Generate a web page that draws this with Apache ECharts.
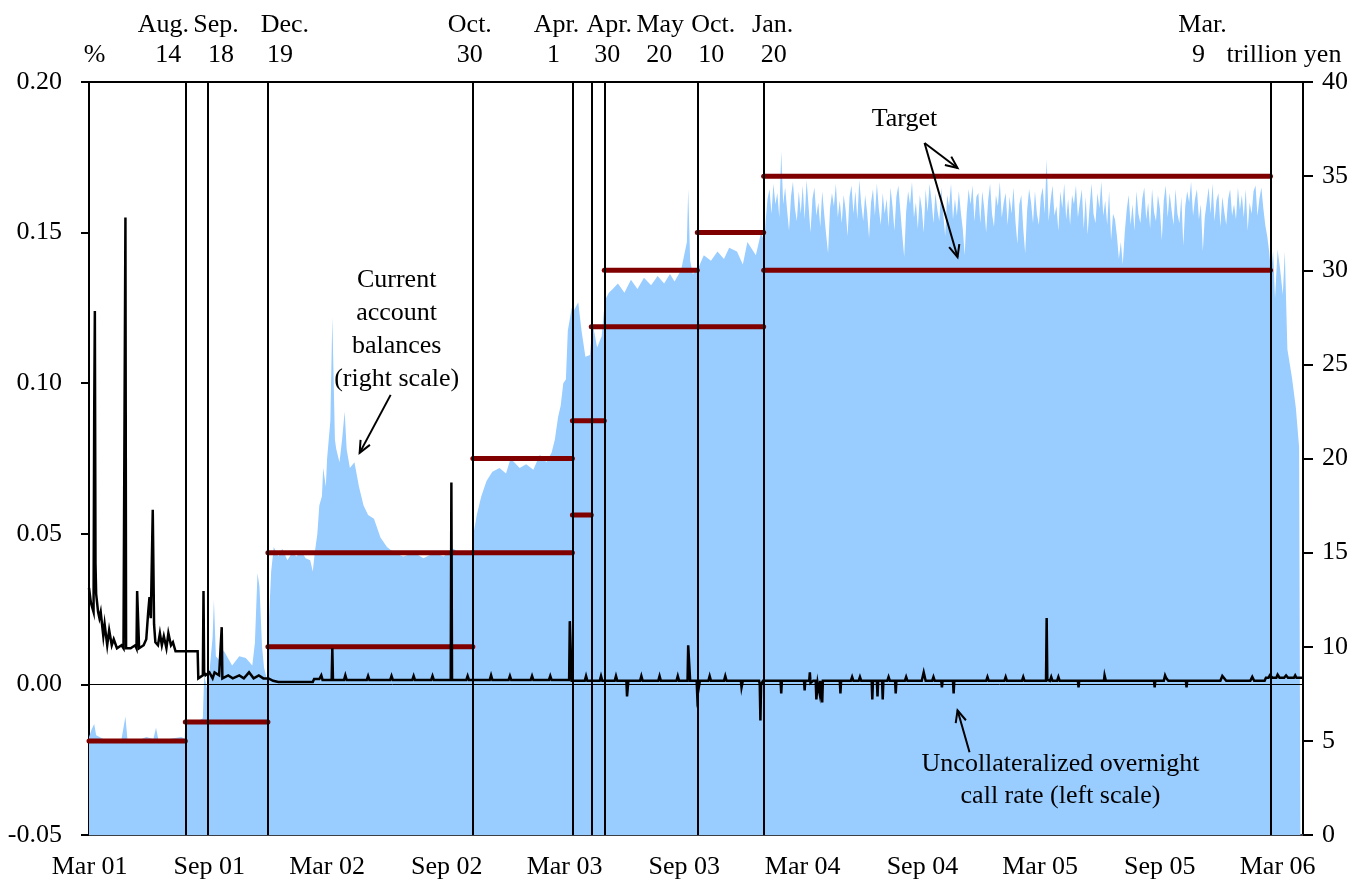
<!DOCTYPE html>
<html>
<head>
<meta charset="utf-8">
<script src="https://cdn.jsdelivr.net/npm/echarts@6/dist/echarts.min.js"></script>
<style>
  html, body { margin: 0; padding: 0; background: #fff; }
  #chart { width: 1367px; height: 891px; }
</style>
</head>
<body>
<div id="chart"></div>
<script>
// ---- time span of the horizontal axis ----
const AXIS_START = '2001-03-19';
const AXIS_END = '2006-04-28';

// ---- bottom axis labels ----
const monthTickDates = ['2001-03-20', '2001-09-20', '2002-03-20', '2002-09-20', '2003-03-20', '2003-09-20',
  '2004-03-20', '2004-09-20', '2005-03-20', '2005-09-20', '2006-03-20'];
const monthTickLabels = ['Mar 01', 'Sep 01', 'Mar 02', 'Sep 02', 'Mar 03', 'Sep 03',
  'Mar 04', 'Sep 04', 'Mar 05', 'Sep 05', 'Mar 06'];

// ---- policy change dates (vertical lines) ----
const policyDates = ['2001-08-14', '2001-09-18', '2001-12-19', '2002-10-30', '2003-04-01', '2003-04-30',
  '2003-05-20', '2003-10-10', '2004-01-20', '2006-03-09'];
const policyMonths = ['Aug.', 'Sep.', 'Dec.', 'Oct.', 'Apr.', 'Apr.', 'May', 'Oct.', 'Jan.', 'Mar.'];
const policyDays = ['14', '18', '19', '30', '1', '30', '20', '10', '20', '9'];

// ---- current account balance targets (trillion yen) ----
const targetFrom = ['2001-03-19', '2001-08-14', '2001-12-19', '2001-12-19', '2002-10-30', '2002-10-30',
  '2003-04-01', '2003-04-01', '2003-04-30', '2003-05-20', '2003-10-10', '2004-01-20', '2004-01-20'];
const targetTo = ['2001-08-14', '2001-12-19', '2002-10-30', '2002-10-30', '2003-04-01', '2003-04-01',
  '2003-04-30', '2003-05-20', '2004-01-20', '2003-10-10', '2004-01-20', '2006-03-09', '2006-03-09'];
const targetLevel = [5, 6, 10, 15, 15, 20, 17, 22, 27, 30, 32, 30, 35];

// ---- current account balances (trillion yen, right scale) ----
// until the Jan. 2004 target change
const balancesEarly = [
  ['2001-03-19', 5.2], ['2001-03-23', 5.6], ['2001-03-27', 5.9], ['2001-03-30', 5.3], ['2001-04-10', 5.1],
  ['2001-04-25', 4.9], ['2001-05-08', 5.1], ['2001-05-14', 6.3], ['2001-05-17', 5.1], ['2001-06-01', 5.0],
  ['2001-06-15', 5.2], ['2001-06-26', 5.1], ['2001-06-30', 5.7], ['2001-07-04', 5.0], ['2001-07-20', 5.1],
  ['2001-08-08', 5.2], ['2001-08-13', 5.1], ['2001-08-14', 6.0], ['2001-08-24', 6.1], ['2001-09-05', 6.1],
  ['2001-09-10', 6.2], ['2001-09-12', 8.5], ['2001-09-18', 7.5], ['2001-09-21', 9.0], ['2001-09-25', 10.5],
  ['2001-09-27', 12.5], ['2001-09-30', 9.5], ['2001-10-05', 9.3], ['2001-10-12', 9.8], ['2001-10-25', 9.0],
  ['2001-11-05', 9.5], ['2001-11-15', 9.4], ['2001-11-25', 9.0], ['2001-11-29', 10.2], ['2001-12-03', 13.9],
  ['2001-12-06', 13.2], ['2001-12-10', 10.0], ['2001-12-13', 8.9], ['2001-12-18', 8.2], ['2001-12-20', 11.0],
  ['2001-12-24', 14.0], ['2001-12-28', 15.3], ['2002-01-04', 14.8], ['2002-01-10', 15.2], ['2002-01-18', 14.6],
  ['2002-01-25', 15.0], ['2002-02-01', 14.8], ['2002-02-08', 15.1], ['2002-02-15', 14.7], ['2002-02-22', 14.6],
  ['2002-02-26', 14.0], ['2002-03-01', 15.0], ['2002-03-05', 16.0], ['2002-03-08', 17.5], ['2002-03-12', 18.0],
  ['2002-03-14', 19.5], ['2002-03-18', 18.5], ['2002-03-20', 20.0], ['2002-03-25', 22.0], ['2002-03-28', 27.5],
  ['2002-04-01', 21.0], ['2002-04-03', 20.5], ['2002-04-08', 19.8], ['2002-04-12', 21.0], ['2002-04-16', 22.5],
  ['2002-04-19', 20.5], ['2002-04-24', 19.5], ['2002-05-01', 19.8], ['2002-05-08', 18.5], ['2002-05-15', 17.5],
  ['2002-05-22', 17.0], ['2002-05-31', 16.8], ['2002-06-10', 15.8], ['2002-06-20', 15.3], ['2002-07-01', 15.0],
  ['2002-07-15', 14.8], ['2002-08-01', 15.0], ['2002-08-15', 14.7], ['2002-09-01', 15.0], ['2002-09-15', 14.8],
  ['2002-09-30', 15.2], ['2002-10-15', 14.9], ['2002-10-29', 15.0], ['2002-10-31', 16.0], ['2002-11-05', 17.0],
  ['2002-11-12', 18.0], ['2002-11-20', 18.8], ['2002-11-29', 19.3], ['2002-12-10', 19.5], ['2002-12-20', 19.2],
  ['2002-12-27', 20.0], ['2003-01-10', 19.5], ['2003-01-20', 19.7], ['2003-01-31', 19.4], ['2003-02-10', 20.2],
  ['2003-02-20', 19.8], ['2003-02-28', 20.3], ['2003-03-05', 21.0], ['2003-03-10', 22.2], ['2003-03-14', 22.8],
  ['2003-03-18', 24.0], ['2003-03-22', 24.2], ['2003-03-25', 26.8], ['2003-03-31', 28.0], ['2003-04-04', 27.9],
  ['2003-04-10', 28.3], ['2003-04-15', 26.8], ['2003-04-21', 25.4], ['2003-04-28', 25.5], ['2003-05-02', 27.2],
  ['2003-05-09', 25.9], ['2003-05-16', 26.5], ['2003-05-21', 28.4], ['2003-05-27', 28.8], ['2003-06-02', 29.0],
  ['2003-06-10', 29.3], ['2003-06-20', 28.8], ['2003-06-30', 29.5], ['2003-07-10', 29.0], ['2003-07-20', 29.6],
  ['2003-07-31', 29.2], ['2003-08-10', 29.7], ['2003-08-20', 29.3], ['2003-08-29', 29.8], ['2003-09-05', 29.4],
  ['2003-09-15', 30.0], ['2003-09-24', 31.5], ['2003-09-26', 34.3], ['2003-09-29', 30.5], ['2003-10-03', 29.8],
  ['2003-10-10', 30.0], ['2003-10-20', 30.8], ['2003-10-31', 30.5], ['2003-11-10', 31.0], ['2003-11-20', 30.6],
  ['2003-11-28', 31.2], ['2003-12-10', 31.0], ['2003-12-19', 30.3], ['2003-12-26', 31.5], ['2004-01-08', 30.8],
  ['2004-01-16', 32.0], ['2004-01-21', 31.5]
];
// Jan. 2004 to Mar. 2006, read every third day
const BAL_DENSE_START = '2004-01-23';
const BAL_DENSE_STEP = 3;
const balancesDense = [
  32.6, 33.8, 34.3, 33.0, 34.6, 33.5, 34.1, 32.8, 36.3, 33.5,
  34.4, 33.2, 32.1, 33.9, 34.7, 33.3, 32.6, 34.2, 33.0, 34.5,
  32.7, 34.8, 33.4, 32.0, 33.8, 34.4, 32.9, 33.6, 32.3, 34.2,
  33.0, 31.9, 30.9, 33.3, 34.1, 33.4, 34.6, 32.8, 33.7, 32.5,
  34.0, 33.2, 31.8, 33.9, 34.5, 33.0, 34.2, 32.7, 34.8, 33.5,
  32.6, 34.0, 33.1, 31.7, 33.6, 34.3, 32.9, 34.6, 33.3, 32.4,
  34.1, 33.0, 33.8, 32.3, 34.4, 33.4, 32.1, 33.9, 34.5, 33.2,
  31.9, 30.7, 33.1, 34.2, 33.5, 34.7, 32.8, 33.6, 32.2, 34.0,
  33.3, 32.0, 34.3, 33.1, 34.6, 33.7, 32.5, 34.1, 33.2, 32.6,
  34.4, 33.0, 31.8, 34.0, 33.4, 34.6, 32.7, 33.8, 32.9, 34.2,
  33.1, 32.2, 30.8, 33.0, 34.3, 33.5, 34.5, 32.6, 33.9, 34.1,
  32.5, 34.2, 33.3, 32.0, 33.7, 34.6, 33.0, 32.3, 34.0, 33.4,
  34.7, 32.8, 33.6, 34.1, 32.4, 33.9, 33.0, 34.4, 32.6, 31.4,
  33.5, 34.0, 32.2, 30.9, 33.2, 34.3, 33.6, 32.5, 34.2, 33.0,
  32.4, 33.9, 34.4, 33.0, 35.9, 32.6, 33.7, 34.5, 32.9, 33.4,
  32.1, 34.2, 33.3, 34.6, 32.7, 33.8, 32.4, 34.0, 33.5, 34.5,
  32.8, 33.6, 34.3, 32.2, 33.9, 31.9, 33.4, 34.6, 33.0, 32.5,
  34.1, 33.3, 34.7, 32.9, 33.7, 32.4, 34.2, 31.6, 33.0, 32.7,
  31.8, 30.6, 31.5, 30.3, 32.0, 33.2, 34.0, 32.4, 33.5, 32.1,
  34.2, 33.0, 32.5, 33.8, 34.4, 32.7, 33.6, 32.2, 34.3, 33.1,
  32.6, 34.0, 33.3, 31.6, 33.7, 34.5, 32.8, 34.1, 33.2, 32.4,
  34.3, 33.0, 32.5, 33.9, 31.3, 33.4, 34.2, 33.6, 34.7, 32.9,
  33.8, 34.3, 32.7, 33.5, 31.0, 32.8, 33.6, 34.4, 33.0, 34.6,
  32.6, 33.7, 34.1, 32.3, 33.9, 33.1, 32.4, 33.8, 34.3, 32.9,
  33.5, 32.7, 34.4, 33.2, 34.0, 32.8, 34.3, 32.1, 33.6, 33.0,
  34.2, 34.5, 32.9, 33.8, 34.4, 33.3, 32.4, 31.8, 31.0
];
// after the end of quantitative easing
const balancesLate = [
  ['2006-03-10', 29.8], ['2006-03-13', 31.0], ['2006-03-16', 28.5], ['2006-03-20', 31.1], ['2006-03-24', 30.0],
  ['2006-03-28', 28.7], ['2006-03-31', 31.0], ['2006-04-04', 25.8], ['2006-04-11', 24.3], ['2006-04-17', 22.7],
  ['2006-04-22', 20.6], ['2006-04-24', 0]
];

// ---- uncollateralized overnight call rate (%, left scale) ----
const callRate = [
  ['2001-03-19', 0.032], ['2001-03-22', 0.027], ['2001-03-26', 0.024], ['2001-03-27', 0.090], ['2001-03-28', 0.124],
  ['2001-03-29', 0.040], ['2001-03-30', 0.030], ['2001-04-02', 0.024], ['2001-04-04', 0.022], ['2001-04-06', 0.024],
  ['2001-04-10', 0.016], ['2001-04-12', 0.020], ['2001-04-16', 0.013], ['2001-04-19', 0.018], ['2001-04-23', 0.013],
  ['2001-04-26', 0.015], ['2001-05-01', 0.012], ['2001-05-08', 0.013], ['2001-05-11', 0.012], ['2001-05-14', 0.155],
  ['2001-05-15', 0.012], ['2001-05-22', 0.012], ['2001-05-29', 0.013], ['2001-05-31', 0.012], ['2001-06-01', 0.031],
  ['2001-06-04', 0.012], ['2001-06-11', 0.013], ['2001-06-15', 0.015], ['2001-06-18', 0.024], ['2001-06-20', 0.029],
  ['2001-06-22', 0.022], ['2001-06-25', 0.058], ['2001-06-27', 0.020], ['2001-06-29', 0.014], ['2001-07-03', 0.013],
  ['2001-07-06', 0.017], ['2001-07-09', 0.013], ['2001-07-12', 0.016], ['2001-07-16', 0.012], ['2001-07-19', 0.017],
  ['2001-07-23', 0.013], ['2001-07-26', 0.014], ['2001-07-30', 0.011], ['2001-09-02', 0.011], ['2001-09-03', 0.002],
  ['2001-09-10', 0.003], ['2001-09-11', 0.031], ['2001-09-12', 0.004], ['2001-09-14', 0.003], ['2001-09-20', 0.004],
  ['2001-09-25', 0.002], ['2001-09-28', 0.004], ['2001-10-05', 0.003], ['2001-10-08', 0.003], ['2001-10-09', 0.019],
  ['2001-10-10', 0.002], ['2001-10-19', 0.003], ['2001-10-26', 0.002], ['2001-11-05', 0.003], ['2001-11-12', 0.002],
  ['2001-11-20', 0.004], ['2001-11-27', 0.002], ['2001-12-05', 0.003], ['2001-12-12', 0.002], ['2001-12-20', 0.002],
  ['2001-12-27', 0.0012], ['2002-01-04', 0.0008], ['2002-02-26', 0.0008], ['2002-02-28', 0.0018], ['2002-03-08', 0.0018],
  ['2002-03-11', 0.003], ['2002-03-13', 0.0015], ['2002-03-27', 0.0015], ['2002-03-28', 0.012], ['2002-03-29', 0.0015],
  ['2002-04-15', 0.0015], ['2002-04-17', 0.003], ['2002-04-19', 0.0015], ['2002-05-20', 0.0015], ['2002-05-22', 0.0028],
  ['2002-05-24', 0.0015], ['2002-06-25', 0.0015], ['2002-06-27', 0.0028], ['2002-06-29', 0.0015], ['2002-07-29', 0.0015],
  ['2002-07-31', 0.0028], ['2002-08-02', 0.0015], ['2002-08-27', 0.0015], ['2002-08-29', 0.0028], ['2002-08-31', 0.0015],
  ['2002-09-26', 0.0015], ['2002-09-27', 0.067], ['2002-09-28', 0.0015], ['2002-10-20', 0.0015], ['2002-10-22', 0.0028],
  ['2002-10-24', 0.0015], ['2002-11-25', 0.0015], ['2002-11-27', 0.003], ['2002-11-29', 0.0015], ['2002-12-24', 0.0015],
  ['2002-12-26', 0.0028], ['2002-12-28', 0.0015], ['2003-01-27', 0.0015], ['2003-01-29', 0.0028], ['2003-01-31', 0.0015],
  ['2003-02-24', 0.0015], ['2003-02-26', 0.0028], ['2003-02-28', 0.0015], ['2003-03-27', 0.0015], ['2003-03-28', 0.021],
  ['2003-03-31', 0.0012], ['2003-04-20', 0.0012], ['2003-04-22', 0.0028], ['2003-04-24', 0.0012], ['2003-05-13', 0.0012],
  ['2003-05-15', 0.0028], ['2003-05-17', 0.0012], ['2003-06-05', 0.0012], ['2003-06-07', 0.0028], ['2003-06-09', 0.0012],
  ['2003-06-23', 0.0012], ['2003-06-24', -0.004], ['2003-06-26', 0.0012], ['2003-07-14', 0.0012], ['2003-07-16', 0.0028],
  ['2003-07-18', 0.0012], ['2003-08-11', 0.0012], ['2003-08-13', 0.0028], ['2003-08-15', 0.0012], ['2003-09-08', 0.0012],
  ['2003-09-10', 0.0028], ['2003-09-12', 0.0012], ['2003-09-25', 0.0012], ['2003-09-26', 0.013], ['2003-09-29', 0.0012],
  ['2003-10-09', 0.0012], ['2003-10-10', -0.004], ['2003-10-14', 0.0012], ['2003-10-27', 0.0012], ['2003-10-29', 0.0028],
  ['2003-10-31', 0.0012], ['2003-11-20', 0.0012], ['2003-11-22', 0.0028], ['2003-11-24', 0.0012], ['2003-12-16', 0.0012],
  ['2003-12-17', -0.001], ['2003-12-19', 0.0012], ['2004-01-13', 0.0012], ['2004-01-14', 0.000], ['2004-01-15', -0.012],
  ['2004-01-16', 0.000], ['2004-01-19', 0.0012], ['2004-02-15', 0.0012], ['2004-02-16', -0.003], ['2004-02-17', 0.0012],
  ['2004-03-22', 0.0012], ['2004-03-23', -0.002], ['2004-03-24', 0.0012], ['2004-03-30', 0.0012], ['2004-03-31', 0.004],
  ['2004-04-01', 0.0005], ['2004-04-05', 0.0012], ['2004-04-09', 0.0012], ['2004-04-10', -0.005], ['2004-04-12', 0.0005],
  ['2004-04-15', -0.003], ['2004-04-16', 0.0012], ['2004-04-19', -0.006], ['2004-04-20', 0.0012], ['2004-05-16', 0.0012],
  ['2004-05-17', -0.003], ['2004-05-18', 0.0012], ['2004-06-02', 0.0012], ['2004-06-04', 0.0025], ['2004-06-06', 0.0012],
  ['2004-06-14', 0.0012], ['2004-06-16', 0.0025], ['2004-06-18', 0.0012], ['2004-07-04', 0.0012], ['2004-07-05', -0.005],
  ['2004-07-06', 0.0012], ['2004-07-12', 0.0012], ['2004-07-13', -0.004], ['2004-07-14', 0.0012], ['2004-07-20', 0.0012],
  ['2004-07-21', -0.005], ['2004-07-22', 0.0012], ['2004-07-28', 0.0012], ['2004-07-30', 0.0025], ['2004-08-01', 0.0012],
  ['2004-08-09', 0.0012], ['2004-08-10', -0.003], ['2004-08-11', 0.0012], ['2004-08-24', 0.0012], ['2004-08-26', 0.0025],
  ['2004-08-28', 0.0012], ['2004-09-19', 0.0012], ['2004-09-22', 0.004], ['2004-09-25', 0.0012], ['2004-10-05', 0.0012],
  ['2004-10-07', 0.0025], ['2004-10-09', 0.0012], ['2004-10-19', 0.0012], ['2004-10-20', -0.001], ['2004-10-21', 0.0012],
  ['2004-11-06', 0.0012], ['2004-11-07', -0.003], ['2004-11-08', 0.0012], ['2004-12-27', 0.0012], ['2004-12-29', 0.0025],
  ['2004-12-31', 0.0012], ['2005-01-24', 0.0012], ['2005-01-26', 0.0025], ['2005-01-28', 0.0012], ['2005-02-20', 0.0012],
  ['2005-02-22', 0.0025], ['2005-02-24', 0.0012], ['2005-03-29', 0.0012], ['2005-03-30', 0.022], ['2005-03-31', 0.0015],
  ['2005-04-04', 0.0012], ['2005-04-06', 0.0025], ['2005-04-08', 0.0012], ['2005-04-15', 0.0012], ['2005-04-17', 0.0025],
  ['2005-04-19', 0.0012], ['2005-05-17', 0.0012], ['2005-05-18', -0.001], ['2005-05-19', 0.0012], ['2005-06-26', 0.0012],
  ['2005-06-27', 0.003], ['2005-06-29', 0.0012], ['2005-09-11', 0.0012], ['2005-09-12', -0.001], ['2005-09-13', 0.0012],
  ['2005-09-26', 0.0012], ['2005-09-28', 0.003], ['2005-09-30', 0.002], ['2005-10-03', 0.0012], ['2005-10-30', 0.0012],
  ['2005-10-31', -0.001], ['2005-11-01', 0.0012], ['2005-12-22', 0.0012], ['2005-12-25', 0.0028], ['2005-12-28', 0.003],
  ['2005-12-31', 0.0012], ['2006-02-06', 0.0012], ['2006-02-09', 0.0025], ['2006-02-12', 0.0012], ['2006-02-28', 0.0012],
  ['2006-03-02', 0.0022], ['2006-03-06', 0.0022], ['2006-03-08', 0.003], ['2006-03-12', 0.0022], ['2006-03-18', 0.0022],
  ['2006-03-20', 0.0032], ['2006-03-23', 0.0022], ['2006-03-30', 0.0022], ['2006-04-02', 0.003], ['2006-04-05', 0.0022],
  ['2006-04-14', 0.0022], ['2006-04-16', 0.003], ['2006-04-18', 0.0022], ['2006-04-28', 0.0022]
];

// ---- annotation anchors (data coordinates of arrow tips) ----
const balanceArrowTip = ['2002-05-09', 20.3];
const targetArrowTips = [['2004-11-13', 35.43], ['2004-11-13', 30.7]];
const rateArrowTip = ['2004-11-13', -0.0086];

// ---------------------------------------------------------------------------
const DAY_MS = 86400000;
const ORIGIN = Date.UTC(2001, 2, 19);
function dayOf(s) {
  const p = s.split('-').map(Number);
  return Math.round((Date.UTC(p[0], p[1] - 1, p[2]) - ORIGIN) / DAY_MS);
}
const tickLabelByDay = {};
monthTickDates.forEach((d, i) => { tickLabelByDay[dayOf(d)] = monthTickLabels[i]; });

const denseStart = dayOf(BAL_DENSE_START);
const balanceData = [].concat(
  balancesEarly.map(p => [dayOf(p[0]), p[1]]),
  balancesDense.map((v, i) => [denseStart + i * BAL_DENSE_STEP, v]),
  balancesLate.map(p => [dayOf(p[0]), p[1]])
);

const FONT = '"Liberation Serif", "Times New Roman", serif';
const FONT_SIZE = 26;
const RED = '#800000';
const BLUE = '#99CCFF';

const targetSeries = targetLevel.map((v, i) => ({
  name: 'Target', type: 'line', yAxisIndex: 1, z: 4, silent: true,
  symbol: 'none', animation: false,
  lineStyle: { color: RED, width: 5, cap: 'round' },
  data: [[dayOf(targetFrom[i]), v], [dayOf(targetTo[i]), v]]
}));

const chart = echarts.init(document.getElementById('chart'), null, { renderer: 'canvas' });

chart.setOption({
  animation: false,
  backgroundColor: '#fff',
  grid: { left: 89, right: 64, top: 82, bottom: 56, show: true, borderColor: '#000', borderWidth: 2 },
  xAxis: {
    type: 'value', min: dayOf(AXIS_START), max: dayOf(AXIS_END),
    splitLine: { show: false },
    axisLine: { show: true, onZero: false, lineStyle: { color: '#3a3f46', width: 2 } },
    axisTick: { show: false },
    axisLabel: {
      customValues: monthTickDates.map(dayOf),
      formatter: v => tickLabelByDay[v] || '',
      fontFamily: FONT, fontSize: FONT_SIZE, color: '#000', margin: 19
    }
  },
  yAxis: [
    {
      type: 'value', min: -0.05, max: 0.2, interval: 0.05, position: 'left',
      splitLine: { show: false },
      axisLine: { show: true, onZero: false, lineStyle: { color: '#000', width: 2 } },
      axisTick: { show: true, inside: false, length: 8, lineStyle: { color: '#000', width: 2 } },
      axisLabel: { formatter: v => v.toFixed(2), fontFamily: FONT, fontSize: FONT_SIZE, color: '#000', margin: 27 }
    },
    {
      type: 'value', min: 0, max: 40, interval: 5, position: 'right',
      splitLine: { show: false },
      axisLine: { show: true, onZero: false, lineStyle: { color: '#000', width: 2 } },
      axisTick: { show: true, inside: false, length: 10, lineStyle: { color: '#000', width: 2 } },
      axisLabel: { formatter: v => String(v), fontFamily: FONT, fontSize: FONT_SIZE, color: '#000', margin: 19 }
    }
  ],
  series: [
    {
      name: 'Current account balances', type: 'line', yAxisIndex: 1, z: 1, silent: true,
      symbol: 'none', lineStyle: { width: 0 }, areaStyle: { color: BLUE, opacity: 1 },
      data: balanceData,
      markLine: {
        silent: true, animation: false, symbol: ['none', 'none'], label: { show: false },
        lineStyle: { color: '#000', width: 2, type: 'solid' },
        emphasis: { disabled: true },
        data: policyDates.map(d => ({ xAxis: dayOf(d) }))
      }
    },
    ...targetSeries,
    {
      name: 'Uncollateralized overnight call rate', type: 'line', yAxisIndex: 0, z: 5, silent: true,
      symbol: 'none', lineStyle: { color: '#000', width: 2.5, join: 'miter' },
      data: callRate.map(p => [dayOf(p[0]), p[1]]),
      markLine: {
        silent: true, animation: false, symbol: ['none', 'none'], label: { show: false },
        lineStyle: { color: '#000', width: 1, type: 'solid' },
        emphasis: { disabled: true },
        data: [{ yAxis: 0 }]
      }
    }
  ]
});

// ---- texts and arrows placed from axis coordinates ----
function toPx(date, value, yAxisIndex) {
  return chart.convertToPixel({ xAxisIndex: 0, yAxisIndex: yAxisIndex }, [dayOf(date), value]);
}
function textEl(str, x, y, extra) {
  return {
    type: 'text', x: x, y: y, silent: true, z: 20,
    style: Object.assign({
      text: str, fill: '#000', fontFamily: FONT, fontSize: FONT_SIZE,
      align: 'center', verticalAlign: 'middle', textAlign: 'center', textVerticalAlign: 'middle'
    }, extra || {})
  };
}
function arrowEls(tip, tail) {
  const ang = Math.atan2(tail[1] - tip[1], tail[0] - tip[0]);
  const len = 13, spread = 0.42;
  const a = [tip[0] + len * Math.cos(ang + spread), tip[1] + len * Math.sin(ang + spread)];
  const b = [tip[0] + len * Math.cos(ang - spread), tip[1] + len * Math.sin(ang - spread)];
  return [
    { type: 'line', silent: true, z: 20, shape: { x1: tail[0], y1: tail[1], x2: tip[0], y2: tip[1] },
      style: { stroke: '#000', lineWidth: 2 } },
    { type: 'polyline', silent: true, z: 20, shape: { points: [a, tip, b] },
      style: { stroke: '#000', lineWidth: 2, fill: null } }
  ];
}

const graphics = [];
const topLeft = toPx(AXIS_START, 0.2, 0);
const topRight = toPx(AXIS_END, 40, 1);
const MONTH_ROW = topLeft[1] - 57;
const DAY_ROW = topLeft[1] - 27;

// offsets of the two-row date captions from their lines
const monthShift = [-22, 8, 17, -3, -16, 18, 56, 16, 9, -68];
const dayShift = [-17, 13, 12, -3, -19, 16, 55, 14, 10, -72];
policyDates.forEach((d, i) => {
  const x = toPx(d, 0, 0)[0];
  graphics.push(textEl(policyMonths[i], x + monthShift[i], MONTH_ROW));
  graphics.push(textEl(policyDays[i], x + dayShift[i], DAY_ROW));
});
graphics.push(textEl('%', topLeft[0] + 5.5, DAY_ROW));
graphics.push(textEl('trillion yen', topRight[0] - 19, DAY_ROW));

// current account balances
const tipA = toPx(balanceArrowTip[0], balanceArrowTip[1], 1);
const tailA = [tipA[0] + 31, tipA[1] - 58];
graphics.push(...arrowEls(tipA, tailA));
graphics.push(textEl('Current\naccount\nbalances\n(right scale)', tailA[0] + 6, tailA[1] - 65, { lineHeight: 33 }));

// target
const tipB = toPx(targetArrowTips[0][0], targetArrowTips[0][1], 1);
const tipC = toPx(targetArrowTips[1][0], targetArrowTips[1][1], 1);
const tailB = [tipB[0] - 33, tipB[1] - 25];
graphics.push(...arrowEls(tipB, tailB));
graphics.push(...arrowEls(tipC, tailB));
graphics.push(textEl('Target', tailB[0] - 20, tailB[1] - 24));

// call rate
const tipD = toPx(rateArrowTip[0], rateArrowTip[1], 0);
const tailD = [tipD[0] + 12, tipD[1] + 42];
graphics.push(...arrowEls(tipD, tailD));
graphics.push(textEl('Uncollateralized overnight\ncall rate (left scale)', tailD[0] + 91, tailD[1] + 28, { lineHeight: 32 }));

chart.setOption({ graphic: graphics });
</script>
</body>
</html>
